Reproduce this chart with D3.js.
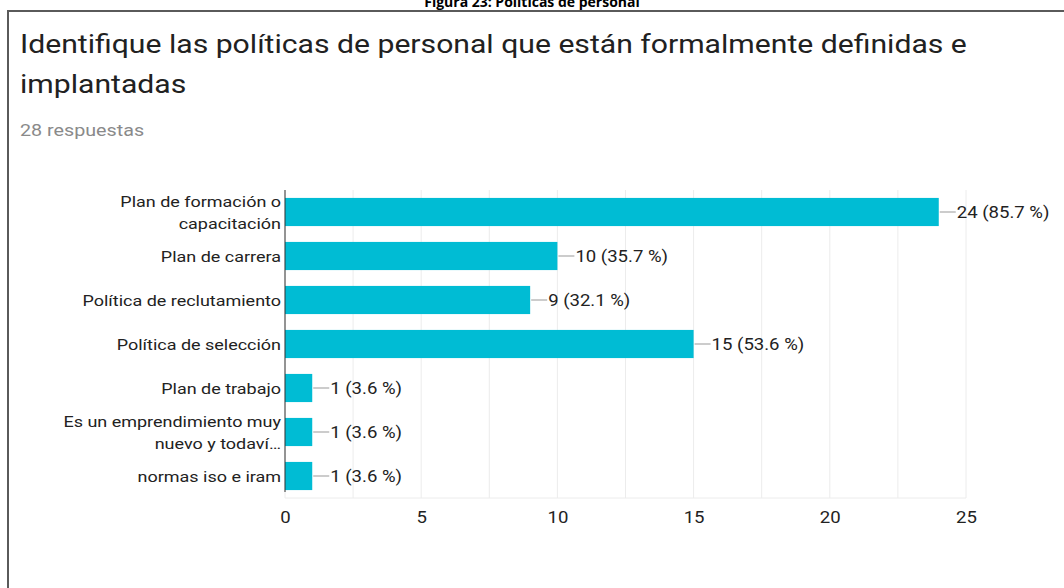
<!DOCTYPE html>
<html>
<head>
<meta charset="utf-8">
<script src="https://cdn.jsdelivr.net/npm/d3@7"></script>
<style>
  html, body { margin: 0; padding: 0; background: #fff; overflow: hidden; }
  svg { display: block; }
</style>
</head>
<body>
<div id="chart"></div>
<script>
const categories = [
  ["Plan de formación o", "capacitación"],
  ["Plan de carrera"],
  ["Política de reclutamiento"],
  ["Política de selección"],
  ["Plan de trabajo"],
  ["Es un emprendimiento muy", "nuevo y todaví…"],
  ["normas iso e iram"]
];
const counts = [24, 10, 9, 15, 1, 1, 1];
const percents = ["85.7", "35.7", "32.1", "53.6", "3.6", "3.6", "3.6"];
const xTicks = [0, 5, 10, 15, 20, 25];
const gridTicks = [0, 2.5, 5, 7.5, 10, 12.5, 15, 17.5, 20, 22.5, 25];

const width = 1064;
const height = 588;
const font = "Roboto, Arial, sans-serif";
const stretch = 1.16; // the source screenshot is a bit wider than tall

const svg = d3.select("#chart")
  .append("svg")
  .attr("width", width)
  .attr("height", height);

// text drawn with the horizontal stretch of the source
function wideText(parent, x, y) {
  return parent.append("text")
    .attr("transform", "translate(" + x + "," + y + ") scale(" + stretch + ",1)")
    .style("font-family", font);
}

// figure caption, partly clipped at the top of the page like the source
svg.append("text")
  .attr("x", 532)
  .attr("y", 7)
  .attr("text-anchor", "middle")
  .style("font-family", "'Open Sans', Arial, sans-serif")
  .style("font-weight", "bold")
  .style("font-size", "14px")
  .style("fill", "#000")
  .text("Figura 23: Políticas de personal");

// card border
svg.append("path")
  .attr("d", "M8," + height + " V11 H" + width)
  .attr("fill", "none")
  .attr("stroke", "#5a5a5a")
  .attr("stroke-width", 2);

// title
const titleLines = [
  "Identifique las políticas de personal que están formalmente definidas e",
  "implantadas"
];
titleLines.forEach((l, i) => {
  wideText(svg, 20, 53 + i * 40)
    .style("font-size", "26px")
    .style("fill", "#212121")
    .text(l);
});

wideText(svg, 20, 136)
  .style("font-size", "17px")
  .style("fill", "#8a8a8a")
  .text("28 respuestas");

const xScale = d3.scaleLinear()
  .domain([0, 25])
  .range([285, 966]);

const yScale = d3.scaleBand()
  .domain(d3.range(categories.length))
  .range([190, 498])
  .paddingInner(0.36)
  .paddingOuter(0.18);

// grid
svg.append("g")
  .selectAll("line")
  .data(gridTicks)
  .enter()
  .append("line")
  .attr("x1", d => xScale(d))
  .attr("x2", d => xScale(d))
  .attr("y1", 190)
  .attr("y2", 498)
  .attr("stroke", "#ececec")
  .attr("stroke-width", 1);

svg.append("line")
  .attr("x1", xScale(0))
  .attr("x2", xScale(25))
  .attr("y1", 498)
  .attr("y2", 498)
  .attr("stroke", "#ececec");

// bars
svg.append("g")
  .selectAll("rect")
  .data(counts)
  .enter()
  .append("rect")
  .attr("x", xScale(0))
  .attr("y", (d, i) => yScale(i))
  .attr("width", d => xScale(d) - xScale(0))
  .attr("height", yScale.bandwidth())
  .attr("fill", "#00bcd4");

// value labels with leader lines
const valG = svg.append("g");
counts.forEach((d, i) => {
  const cy = yScale(i) + yScale.bandwidth() / 2;
  valG.append("line")
    .attr("x1", xScale(d) + 1)
    .attr("x2", xScale(d) + 17)
    .attr("y1", cy)
    .attr("y2", cy)
    .attr("stroke", "#999")
    .attr("stroke-width", 1);
  wideText(valG, xScale(d) + 18, cy + 6)
    .style("font-size", "16px")
    .style("fill", "#222")
    .text(d + " (" + percents[i] + " %)");
});

// category labels
const catG = svg.append("g");
categories.forEach((lines, i) => {
  const cy = yScale(i) + yScale.bandwidth() / 2;
  lines.forEach((l, j) => {
    wideText(catG, 281, cy + 6 + (j - (lines.length - 1) / 2) * 22)
      .attr("text-anchor", "end")
      .style("font-size", "15.5px")
      .style("fill", "#222")
      .text(l);
  });
});

// y axis line
svg.append("line")
  .attr("x1", xScale(0))
  .attr("x2", xScale(0))
  .attr("y1", 190)
  .attr("y2", 492)
  .attr("stroke", "#333")
  .attr("stroke-width", 1);

// x axis
const xAxis = d3.axisBottom(xScale)
  .tickValues(xTicks)
  .tickSize(0)
  .tickPadding(14);

svg.append("g")
  .attr("transform", "translate(0,498)")
  .call(xAxis)
  .call(g => g.select(".domain").remove())
  .selectAll("text")
  .attr("transform", function () {
    const x = d3.select(this.parentNode).attr("transform");
    return "scale(" + stretch + ",1)";
  })
  .style("font-family", font)
  .style("font-size", "16px")
  .style("fill", "#222");
</script>
</body>
</html>
